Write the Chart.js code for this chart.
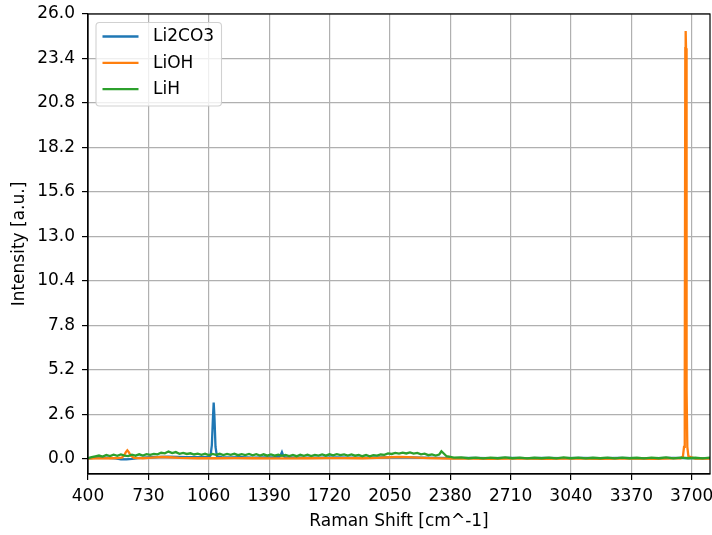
<!DOCTYPE html>
<html><head><meta charset="utf-8">
<script src="https://cdn.jsdelivr.net/npm/chart.js@4"></script>
<style>html,body{margin:0;padding:0;background:#fff;} #wrap{width:712px;height:535px;}</style>
</head><body><div id="wrap"><canvas id="c" width="712" height="535"></canvas></div>
<script>
const seriesNames = ['Li2CO3', 'LiOH', 'LiH'];
const seriesColors = ['#1f77b4', '#ff7f0e', '#2ca02c'];

const li2co3X = [400,430,470,510,550,580,610,640,670,700,740,790,840,890,940,990,1030,1060,1070,1077,1083,1087,1091,1097,1105,1130,1180,1240,1300,1360,1420,1446,1454,1460,1466,1476,1530,1600,1680,1760,1840,1920,2000,2080,2160,2240,2320,2400,2500,2600,2700,2800,2900,3000,3100,3200,3300,3400,3500,3600,3700,3800];
const li2co3Y = [0.04,0.06,0.08,0.07,0.03,-0.02,-0.03,0.00,0.05,0.08,0.10,0.12,0.14,0.12,0.11,0.10,0.10,0.11,0.2,0.8,2.4,3.3,2.5,0.7,0.15,0.1,0.09,0.1,0.08,0.09,0.1,0.12,0.25,0.4,0.22,0.1,0.08,0.07,0.08,0.09,0.08,0.07,0.09,0.1,0.09,0.07,0.06,0.05,0.06,0.05,0.06,0.05,0.06,0.05,0.06,0.05,0.06,0.05,0.05,0.06,0.05,0.05];

const liohX = [400,440,480,520,560,585,597,607,615,623,633,650,700,750,800,850,900,950,1000,1100,1200,1300,1400,1500,1600,1700,1800,1900,1980,2050,2100,2150,2200,2260,2320,2400,2500,2600,2700,2800,2900,3000,3100,3200,3300,3400,3500,3550,3600,3640,3652,3658,3662,3665,3667,3669,3672,3676,3682,3720,3760,3800];
const liohY = [0.02,0.03,0.03,0.04,0.05,0.08,0.2,0.4,0.5,0.4,0.2,0.06,0.04,0.08,0.12,0.1,0.06,0.05,0.04,0.04,0.05,0.04,0.03,0.03,0.04,0.05,0.05,0.04,0.06,0.1,0.12,0.11,0.08,0.05,0.03,0.02,0.02,0.01,0.02,0.02,0.01,0.02,0.02,0.01,0.02,0.02,0.01,0.02,0.03,0.04,0.15,0.7,4,24,25.0,24,4,0.7,0.15,0.02,0.02,0.02];

const lihX = [400,420,440,460,480,500,520,540,560,580,600,620,640,660,680,700,720,740,760,780,800,820,840,860,880,900,920,940,960,980,1000,1020,1040,1060,1080,1100,1120,1140,1160,1180,1200,1220,1240,1260,1280,1300,1320,1340,1360,1380,1400,1420,1440,1460,1480,1500,1520,1540,1560,1580,1600,1620,1640,1660,1680,1700,1720,1740,1760,1780,1800,1820,1840,1860,1880,1900,1920,1940,1960,1980,2000,2020,2040,2060,2080,2100,2120,2140,2160,2180,2200,2220,2240,2260,2280,2300,2320,2332,2360,2380,2400,2440,2480,2520,2560,2600,2640,2680,2720,2760,2800,2840,2880,2920,2960,3000,3040,3080,3120,3160,3200,3240,3280,3320,3360,3400,3440,3480,3520,3560,3600,3640,3680,3720,3760,3800];
const lihY = [0.04,0.1,0.15,0.2,0.14,
  0.23,0.17,0.25,0.18,0.26,0.2,0.17,0.25,0.19,0.27,
  0.2,0.28,0.24,0.3,0.27,0.36,0.33,0.43,0.34,0.4,
  0.3,0.35,0.29,0.33,0.26,0.31,0.24,0.3,0.23,0.29,
  0.24,0.3,0.23,0.29,0.24,0.3,0.22,0.28,0.23,0.29,
  0.21,0.28,0.2,0.27,0.19,0.26,0.19,0.25,0.18,0.24,
  0.17,0.23,0.16,0.24,0.18,0.25,0.17,0.24,0.2,0.26,
  0.19,0.27,0.21,0.28,0.22,0.27,0.2,0.26,0.19,0.24,
  0.16,0.23,0.15,0.22,0.19,0.26,0.24,0.32,0.29,0.35,
  0.31,0.37,0.32,0.38,0.31,0.35,0.27,0.31,0.22,0.27,
  0.2,0.26,0.45,0.16,0.12,0.08,
  0.09,0.04,0.08,0.03,0.08,0.04,0.09,0.04,0.08,0.03,0.07,0.04,0.08,0.03,0.09,0.04,0.08,0.03,0.07,0.04,0.08,0.03,0.08,0.04,0.07,0.03,0.08,0.04,0.09,0.03,0.08,0.04,0.07,0.03,0.08];

const xTicks = [400,730,1060,1390,1720,2050,2380,2710,3040,3370,3700];
const yTicks = [0,2.6,5.2,7.8,10.4,13.0,15.6,18.2,20.8,23.4,26.0];
const xTitle = 'Raman Shift [cm^-1]';
const yTitle = 'Intensity [a.u.]';

const FONT = 'DejaVu Sans';
const FS = 17;
Chart.defaults.font.family = FONT;
Chart.defaults.font.size = FS;
Chart.defaults.color = '#000';

function pts(xs, ys) { return xs.map((x, i) => ({x: x, y: ys[i]})); }
const xsList = [li2co3X, liohX, lihX];
const ysList = [li2co3Y, liohY, lihY];

const datasets = seriesNames.map((n, i) => ({
  label: n,
  data: pts(xsList[i], ysList[i]),
  borderColor: seriesColors[i],
  backgroundColor: seriesColors[i],
  borderWidth: 2.3,
  pointRadius: 0,
  tension: 0,
  fill: false,
  order: 3 - i
}));

const framePlugin = {
  id: 'frameLegend',
  afterDraw(chart) {
    const ctx = chart.ctx, a = chart.chartArea;
    ctx.save();
    ctx.strokeStyle = '#000';
    ctx.lineWidth = 1.2;
    ctx.strokeRect(a.left, a.top, a.right - a.left, a.bottom - a.top);
    const bx = a.left + 8, by = a.top + 8.5, bw = 125.5, bh = 83.5, r = 3.5;
    ctx.beginPath();
    ctx.moveTo(bx + r, by);
    ctx.lineTo(bx + bw - r, by); ctx.arcTo(bx + bw, by, bx + bw, by + r, r);
    ctx.lineTo(bx + bw, by + bh - r); ctx.arcTo(bx + bw, by + bh, bx + bw - r, by + bh, r);
    ctx.lineTo(bx + r, by + bh); ctx.arcTo(bx, by + bh, bx, by + bh - r, r);
    ctx.lineTo(bx, by + r); ctx.arcTo(bx, by, bx + r, by, r);
    ctx.closePath();
    ctx.fillStyle = 'rgba(255,255,255,0.8)';
    ctx.fill();
    ctx.strokeStyle = 'rgba(204,204,204,0.9)';
    ctx.lineWidth = 1.1;
    ctx.stroke();
    ctx.font = FS + 'px "' + FONT + '"';
    ctx.textBaseline = 'middle';
    ctx.textAlign = 'left';
    chart.data.datasets.forEach((d, i) => {
      const yy = by + 14 + i * 26.3;
      ctx.strokeStyle = d.borderColor;
      ctx.lineWidth = 2.3;
      ctx.beginPath();
      ctx.moveTo(bx + 6.5, yy); ctx.lineTo(bx + 42.5, yy);
      ctx.stroke();
      ctx.fillStyle = '#000';
      ctx.fillText(d.label, bx + 57, yy + 0.5);
    });
    ctx.restore();
  }
};

new Chart(document.getElementById('c'), {
  type: 'line',
  data: { datasets: datasets },
  options: {
    responsive: false,
    devicePixelRatio: 1,
    animation: false,
    layout: { autoPadding: false, padding: { left: 0, top: 14, right: 2, bottom: 0 } },
    plugins: { legend: { display: false }, tooltip: { enabled: false } },
    scales: {
      x: {
        type: 'linear',
        min: 400, max: 3800,
        afterBuildTicks: s => { s.ticks = xTicks.map(v => ({value: v})); },
        afterFit: s => { s.height = 61; s.paddingLeft = 0; s.paddingRight = 0; },
        ticks: { autoSkip: false, maxRotation: 0, padding: 6, callback: v => String(v) },
        grid: { color: '#b0b0b0', lineWidth: 1.2, tickColor: '#000', tickLength: 6, tickWidth: 1.2 },
        border: { display: true, color: '#000', width: 1.2 },
        title: { display: true, text: xTitle, padding: { top: 0, bottom: 3.5 }, font: { size: FS } }
      },
      y: {
        type: 'linear',
        min: -0.88, max: 26,
        afterBuildTicks: s => { s.ticks = yTicks.map(v => ({value: v})); },
        afterFit: s => { s.width = 88; s.paddingTop = 0; s.paddingBottom = 0; },
        ticks: { autoSkip: false, padding: 7, callback: v => Number(v).toFixed(1) },
        grid: { color: '#b0b0b0', lineWidth: 1.2, tickColor: '#000', tickLength: 6, tickWidth: 1.2 },
        border: { display: true, color: '#000', width: 1.2 },
        title: { display: true, text: yTitle, padding: { top: 9, bottom: 0 }, font: { size: FS } }
      }
    }
  },
  plugins: [framePlugin]
});
</script>
</body></html>
